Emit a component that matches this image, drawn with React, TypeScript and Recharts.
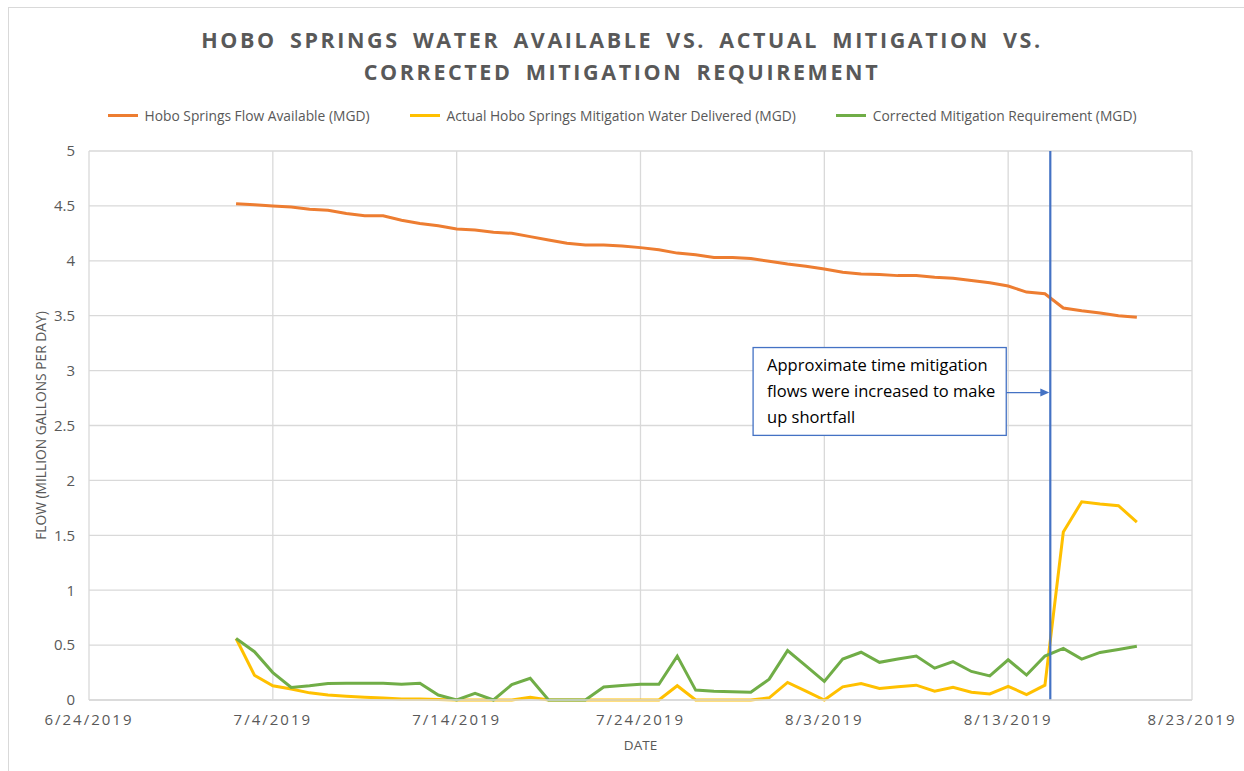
import React from 'react';
import { LineChart, Line, XAxis, YAxis, CartesianGrid, ReferenceLine, ReferenceArea } from 'recharts';

const dates = [
  '2019-07-02','2019-07-03','2019-07-04','2019-07-05','2019-07-06','2019-07-07','2019-07-08','2019-07-09','2019-07-10','2019-07-11',
  '2019-07-12','2019-07-13','2019-07-14','2019-07-15','2019-07-16','2019-07-17','2019-07-18','2019-07-19','2019-07-20','2019-07-21',
  '2019-07-22','2019-07-23','2019-07-24','2019-07-25','2019-07-26','2019-07-27','2019-07-28','2019-07-29','2019-07-30','2019-07-31',
  '2019-08-01','2019-08-02','2019-08-03','2019-08-04','2019-08-05','2019-08-06','2019-08-07','2019-08-08','2019-08-09','2019-08-10',
  '2019-08-11','2019-08-12','2019-08-13','2019-08-14','2019-08-15','2019-08-16','2019-08-17','2019-08-18','2019-08-19','2019-08-20',
];

const flowAvailable = [
  4.52, 4.51, 4.50, 4.49, 4.47, 4.46, 4.43, 4.41, 4.41, 4.37,
  4.34, 4.32, 4.29, 4.28, 4.26, 4.25, 4.22, 4.19, 4.16, 4.145,
  4.145, 4.135, 4.12, 4.10, 4.07, 4.055, 4.03, 4.03, 4.02, 3.995,
  3.97, 3.95, 3.925, 3.895, 3.88, 3.875, 3.865, 3.865, 3.85, 3.84,
  3.82, 3.80, 3.77, 3.715, 3.70, 3.57, 3.545, 3.525, 3.50, 3.485,
];

const actualDelivered = [
  0.56, 0.225, 0.13, 0.10, 0.065, 0.045, 0.035, 0.025, 0.018, 0.01,
  0.01, 0.005, 0, 0, 0, 0, 0.025, 0, 0, 0,
  0, 0, 0, 0, 0.13, 0, 0, 0, 0, 0.02,
  0.16, 0.08, 0, 0.12, 0.15, 0.105, 0.12, 0.135, 0.08, 0.115,
  0.07, 0.055, 0.125, 0.05, 0.135, 1.53, 1.805, 1.785, 1.77, 1.62,
];

const correctedRequirement = [
  0.56, 0.44, 0.25, 0.115, 0.13, 0.15, 0.152, 0.152, 0.152, 0.143,
  0.152, 0.045, 0, 0.06, 0, 0.14, 0.197, 0, 0, 0,
  0.118, 0.133, 0.143, 0.143, 0.40, 0.09, 0.08, 0.075, 0.07, 0.19,
  0.45, 0.31, 0.17, 0.373, 0.435, 0.343, 0.373, 0.40, 0.29, 0.35,
  0.26, 0.22, 0.366, 0.227, 0.40, 0.47, 0.373, 0.433, 0.46, 0.49,
];

const xTickLabels = ['6/24/2019', '7/4/2019', '7/14/2019', '7/24/2019', '8/3/2019', '8/13/2019', '8/23/2019'];
const yTicks = [0, 0.5, 1, 1.5, 2, 2.5, 3, 3.5, 4, 4.5, 5];

const mitigationChangeDate = '2019-08-15T07:00';
const annotationLines = ['Approximate time mitigation', 'flows were increased to make', 'up shortfall'];
const annotationBox = { from: '2019-07-30T03:00', to: '2019-08-12T21:30', low: 2.41, high: 3.21, arrowY: 2.8 };

const series = [
  { key: 'flow', name: 'Hobo Springs Flow Available (MGD)', color: '#ED7D31' },
  { key: 'actual', name: 'Actual Hobo Springs Mitigation Water Delivered (MGD)', color: '#FFC000' },
  { key: 'corrected', name: 'Corrected Mitigation Requirement (MGD)', color: '#70AD47' },
];

const ORIGIN = Date.UTC(2019, 5, 24);
const isoToDay = (s: string) => {
  const [d, t] = s.split('T');
  const [y, m, dd] = d.split('-').map(Number);
  let ms = Date.UTC(y, m - 1, dd);
  if (t) {
    const [hh, mm] = t.split(':').map(Number);
    ms += (hh * 60 + mm) * 60000;
  }
  return (ms - ORIGIN) / 86400000;
};
const usToDay = (s: string) => {
  const [m, d, y] = s.split('/').map(Number);
  return (Date.UTC(y, m - 1, d) - ORIGIN) / 86400000;
};

const data = dates.map((d, i) => ({
  day: isoToDay(d),
  flow: flowAvailable[i],
  actual: actualDelivered[i],
  corrected: correctedRequirement[i],
}));

const xTicks = xTickLabels.map(usToDay);
const tickLabelByDay: Record<number, string> = {};
xTicks.forEach((t, i) => (tickLabelByDay[t] = xTickLabels[i]));

const GRAY = '#595959';
const FONT = '"Open Sans", "Noto Sans", sans-serif';

const AnnotationShape = (props: any) => {
  const { x, y, width, height } = props;
  return (
    <g>
      <rect x={x} y={y} width={width} height={height} fill="#fff" stroke="#4472C4" strokeWidth={1.3} />
      {annotationLines.map((line, i) => (
        <text key={i} x={x + 14} y={y + 23 + i * 26} fontSize={16.5} fill="#000" fontFamily={FONT}>
          {line}
        </text>
      ))}
    </g>
  );
};

const ArrowShape = (props: any) => {
  const { x1, y1, x2, y2 } = props;
  return (
    <g>
      <line x1={x1} y1={y1} x2={x2 - 8} y2={y2} stroke="#4472C4" strokeWidth={1.3} />
      <polygon points={`${x2 - 1},${y2} ${x2 - 10},${y2 - 4} ${x2 - 10},${y2 + 4}`} fill="#4472C4" />
    </g>
  );
};

const YLabel = (props: any) => {
  const { viewBox } = props;
  const cx = viewBox.x + 11;
  const cy = viewBox.y + viewBox.height / 2;
  return (
    <text x={cx} y={cy} transform={`rotate(-90 ${cx} ${cy})`} textAnchor="middle" dominantBaseline="central" fontSize={13.8} fill={GRAY} fontFamily={FONT}>
      FLOW (MILLION GALLONS PER DAY)
    </text>
  );
};

const XLabel = (props: any) => {
  const { viewBox } = props;
  const cx = viewBox.x + viewBox.width / 2;
  return (
    <text x={cx} y={745} textAnchor="middle" dominantBaseline="central" fontSize={13.5} fill={GRAY} fontFamily={FONT}>
      DATE
    </text>
  );
};

export default function App() {
  return (
    <div style={{ position: 'absolute', left: 0, top: 0, width: 1244, height: 771, overflow: 'hidden', background: '#fff', fontFamily: FONT }}>
      <div style={{ position: 'absolute', left: 8, top: 7, width: 1300, height: 900, border: '1px solid #d9d9d9' }} />
      <div
        style={{
          position: 'absolute', left: 0, top: 24, width: 1244, textAlign: 'center', color: GRAY,
          fontSize: 21.5, fontWeight: 700, letterSpacing: 2.6, wordSpacing: 5, lineHeight: '32px',
        }}
      >
        <div>HOBO SPRINGS WATER AVAILABLE VS. ACTUAL MITIGATION VS.</div>
        <div>CORRECTED MITIGATION REQUIREMENT</div>
      </div>
      <div style={{ position: 'absolute', left: 0, top: 106, width: 1244, display: 'flex', justifyContent: 'center', color: GRAY, fontSize: 13.8 }}>
        {series.map((s, i) => (
          <div key={s.key} style={{ display: 'flex', alignItems: 'center', marginRight: i < series.length - 1 ? 40 : 0 }}>
            <span style={{ display: 'inline-block', width: 30, height: 3, background: s.color, marginRight: 7 }} />
            <span>{s.name}</span>
          </div>
        ))}
      </div>
      <div style={{ position: 'absolute', left: 0, top: 0 }}>
        <LineChart width={1244} height={771} data={data} margin={{ top: 151, right: 52, bottom: 31, left: 29 }}>
          <CartesianGrid stroke="#d9d9d9" strokeWidth={1.3} />
          <XAxis
            dataKey="day"
            type="number"
            domain={[xTicks[0], xTicks[xTicks.length - 1]]}
            ticks={xTicks}
            tickFormatter={(v: number) => tickLabelByDay[v] ?? ''}
            tick={{ fill: GRAY, fontSize: 15, letterSpacing: 2, fontFamily: FONT }}
            tickLine={false}
            axisLine={{ stroke: '#d9d9d9', strokeWidth: 1.3 }}
            tickMargin={8}
            height={40}
            label={<XLabel />}
          />
          <YAxis
            type="number"
            domain={[0, 5]}
            ticks={yTicks}
            tick={{ fill: GRAY, fontSize: 15, fontFamily: FONT }}
            tickLine={false}
            axisLine={false}
            tickMargin={8}
            width={60}
            label={<YLabel />}
          />
          <ReferenceArea
            x1={isoToDay(annotationBox.from)}
            x2={isoToDay(annotationBox.to)}
            y1={annotationBox.low}
            y2={annotationBox.high}
            shape={<AnnotationShape />}
            ifOverflow="visible"
          />
          <ReferenceLine
            segment={[
              { x: isoToDay(annotationBox.to), y: annotationBox.arrowY },
              { x: isoToDay(mitigationChangeDate), y: annotationBox.arrowY },
            ]}
            shape={<ArrowShape />}
            ifOverflow="visible"
          />
          {series.map((s) => (
            <Line
              key={s.key}
              type="linear"
              dataKey={s.key}
              name={s.name}
              stroke={s.color}
              strokeWidth={3}
              dot={false}
              activeDot={false}
              isAnimationActive={false}
            />
          ))}
          <ReferenceLine x={isoToDay(mitigationChangeDate)} stroke="#4472C4" strokeWidth={2.2} />
        </LineChart>
      </div>
    </div>
  );
}
